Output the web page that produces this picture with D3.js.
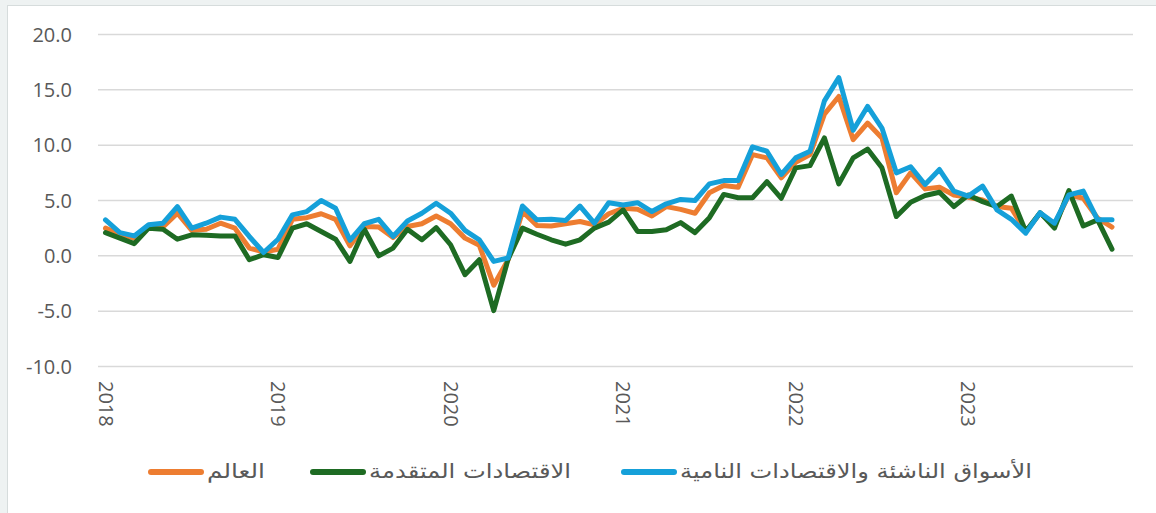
<!DOCTYPE html>
<meta charset="utf-8">
<head>
  <title>Inflation lines</title>
</head>

<style>
body {
  margin: 0;
  background: #eef2f2;
  font-family: "Open Sans", "Noto Sans", sans-serif;
}
#content {
  position: absolute;
  left: 7px;
  top: 5px;
  width: 1149px;
  height: 508px;
  background: #fff;
  border-left: 1.5px solid #d6dcdc;
  border-top: 1.5px solid #d6dcdc;
}
svg { position: absolute; left: 0; top: 0; }
</style>

<body>
  <div id="content"></div>
  <svg width="1156" height="513"></svg>

  <script src="https://cdnjs.cloudflare.com/ajax/libs/d3/7.8.5/d3.min.js"></script>

  <script>
// monthly categories Jan 2018 .. Nov 2023
var years = ['2018', '2019', '2020', '2021', '2022', '2023'];
var months = [];
years.forEach(function(y) {
  for (var m = 1; m <= 12; m++) months.push(y + '-' + (m < 10 ? '0' + m : m));
});
months = months.slice(0, 71);

var yTicks = [-10, -5, 0, 5, 10, 15, 20];

// العالم
var world = [2.5, 1.95, 1.6, 2.55, 2.6, 3.85, 2.3, 2.4, 2.95, 2.5, 0.7, 0.35,
  0.6, 3.3, 3.45, 3.8, 3.3, 0.9, 2.65, 2.6, 1.65, 2.65, 2.9, 3.6,
  2.9, 1.6, 0.95, -2.65, -0.35, 4.0, 2.75, 2.7, 2.9, 3.1, 2.8, 3.8,
  4.3, 4.2, 3.6, 4.45, 4.2, 3.85, 5.7, 6.35, 6.2, 9.15, 8.85, 7.05,
  8.45, 9.15, 12.8, 14.4, 10.5, 12.0, 10.65, 5.7, 7.5, 6.05, 6.2, 5.5,
  5.3, 5.05, 4.45, 4.3, 2.2, 3.85, 2.8, 5.5, 5.2, 3.4, 2.6];

// الاقتصادات المتقدمة
var advanced = [2.1, 1.6, 1.1, 2.5, 2.4, 1.5, 1.9, 1.85, 1.8, 1.8, -0.35, 0.1,
  -0.15, 2.5, 2.9, 2.2, 1.5, -0.5, 2.4, 0.0, 0.7, 2.4, 1.45, 2.55,
  1.0, -1.7, -0.35, -4.95, -0.3, 2.5, 1.95, 1.45, 1.05, 1.45, 2.5, 3.05,
  4.15, 2.2, 2.2, 2.35, 3.0, 2.1, 3.45, 5.55, 5.25, 5.25, 6.7, 5.2,
  7.95, 8.15, 10.65, 6.5, 8.85, 9.65, 7.95, 3.55, 4.85, 5.45, 5.75, 4.45,
  5.5, 4.9, 4.45, 5.4, 2.2, 3.9, 2.5, 5.9, 2.7, 3.25, 0.6];

// الأسواق الناشئة والاقتصادات النامية
var emerging = [3.25, 2.1, 1.8, 2.8, 2.95, 4.45, 2.5, 2.95, 3.5, 3.3, 1.75, 0.3,
  1.5, 3.7, 4.0, 5.0, 4.3, 1.4, 2.9, 3.3, 1.75, 3.15, 3.85, 4.75,
  3.85, 2.3, 1.45, -0.5, -0.2, 4.5, 3.25, 3.3, 3.2, 4.5, 2.95, 4.8,
  4.6, 4.8, 4.0, 4.7, 5.1, 5.0, 6.5, 6.8, 6.8, 9.85, 9.45, 7.35,
  8.85, 9.45, 14.0, 16.1, 11.35, 13.5, 11.55, 7.5, 8.05, 6.45, 7.8, 5.85,
  5.4, 6.3, 4.15, 3.3, 2.05, 3.9, 2.95, 5.5, 5.85, 3.25, 3.25];

var seriesNames = ['العالم', 'الاقتصادات المتقدمة', 'الأسواق الناشئة والاقتصادات النامية'];
var colors = ['#ed7d31', '#1e6b23', '#15a0d9'];

var svg = d3.select('svg');

var x = d3.scalePoint()
  .domain(months)
  .range([105.5, 1112]);

var y = d3.scaleLinear()
  .domain([-10, 20])
  .range([366.5, 34.5]);

var fmt = d3.formatLocale({decimal: '.', thousands: ',', grouping: [3], currency: ['', ''], minus: '-'}).format('.1f');

// gridlines
svg.append('g')
  .selectAll('line')
  .data(yTicks)
  .join('line')
  .attr('x1', 98).attr('x2', 1133)
  .attr('y1', function(d) { return y(d); })
  .attr('y2', function(d) { return y(d); })
  .attr('stroke', '#d9d9d9')
  .attr('stroke-width', 1.5);

// y labels
svg.append('g')
  .selectAll('text')
  .data(yTicks)
  .join('text')
  .attr('x', 72)
  .attr('y', function(d) { return y(d); })
  .attr('dy', '0.35em')
  .attr('text-anchor', 'end')
  .attr('fill', '#595959')
  .style('font-size', '20px')
  .text(function(d) { return fmt(d); });

// x labels, rotated
svg.append('g')
  .selectAll('text')
  .data(years)
  .join('text')
  .attr('transform', function(d) { return 'translate(' + x(d + '-01') + ',381) rotate(90)'; })
  .attr('dy', '0.35em')
  .attr('fill', '#595959')
  .style('font-size', '20px')
  .text(function(d) { return d; });

// lines
var line = d3.line()
  .x(function(d, i) { return x(months[i]); })
  .y(function(d) { return y(d); });

var drawOrder = [[world, 0], [advanced, 1], [emerging, 2]];
drawOrder.forEach(function(s) {
  svg.append('path')
    .datum(s[0])
    .attr('d', line)
    .attr('fill', 'none')
    .attr('stroke', colors[s[1]])
    .attr('stroke-width', 5)
    .attr('stroke-linejoin', 'round')
    .attr('stroke-linecap', 'round');
});

// legend (right to left: swatch sits left of its text)
var legendItems = [
  {name: seriesNames[0], color: colors[0], x: 148, w: 58},
  {name: seriesNames[1], color: colors[1], x: 310, w: 202},
  {name: seriesNames[2], color: colors[2], x: 621, w: 352}
];
var legendY = 471;
var lg = svg.append('g').selectAll('g')
  .data(legendItems)
  .join('g');

lg.append('line')
  .attr('x1', function(d) { return d.x + 3; })
  .attr('x2', function(d) { return d.x + 53; })
  .attr('y1', legendY + 1).attr('y2', legendY + 1)
  .attr('stroke', function(d) { return d.color; })
  .attr('stroke-width', 6)
  .attr('stroke-linecap', 'round');

lg.append('text')
  .attr('x', function(d) { return d.x + 59; })
  .attr('y', legendY)
  .attr('dy', '0.35em')
  .attr('text-anchor', 'start')
  .attr('fill', '#595959')
  .attr('textLength', function(d) { return d.w; })
  .attr('lengthAdjust', 'spacingAndGlyphs')
  .style('font-family', '"DejaVu Sans", sans-serif')
  .style('font-size', '20px')
  .text(function(d) { return d.name; });
  </script>
</body>
</html>
